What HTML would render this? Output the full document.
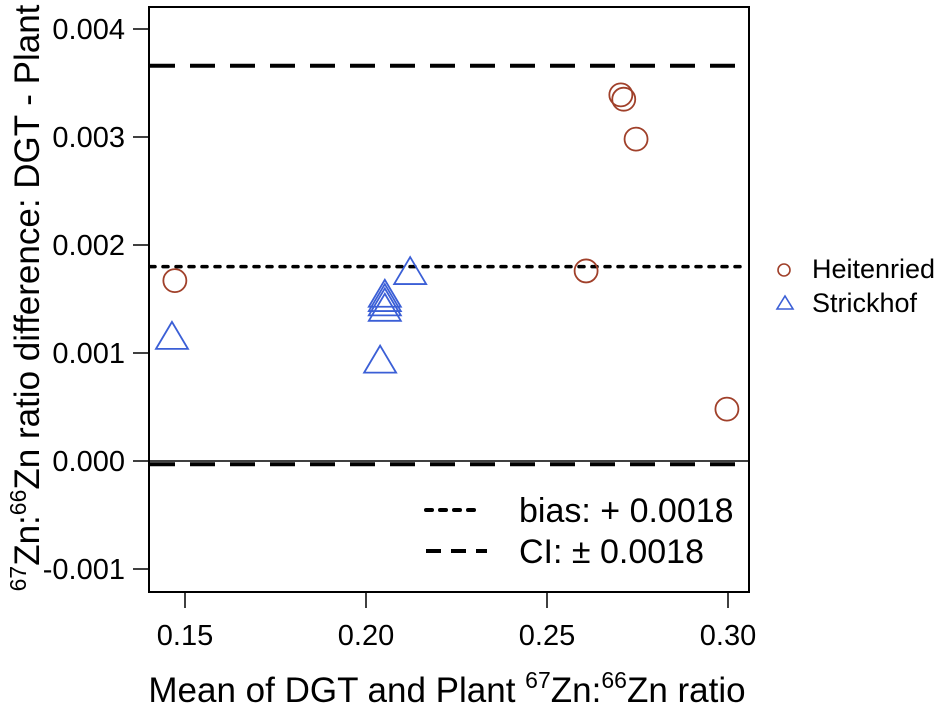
<!DOCTYPE html>
<html><head><meta charset="utf-8"><style>
html,body{margin:0;padding:0;background:#fff;}
svg{display:block;font-family:"Liberation Sans",Arial,sans-serif;}
</style></head><body>
<svg id="chart" width="945" height="710" viewBox="0 0 945 710" xmlns="http://www.w3.org/2000/svg">
<rect x="149" y="7" width="600" height="585" fill="none" stroke="#000" stroke-width="2"/>
<g id="axes"></g>
<g id="lines"></g>
<g id="points"></g>
<text x="447" y="702" font-size="35" text-anchor="middle">Mean of DGT and Plant <tspan font-size="23" dy="-14">67</tspan><tspan dy="14">Zn:</tspan><tspan font-size="23" dy="-14">66</tspan><tspan dy="14">Zn ratio</tspan></text>
<text transform="translate(39,298) rotate(-90)" font-size="35" text-anchor="middle"><tspan font-size="23" dy="-13">67</tspan><tspan dy="13">Zn:</tspan><tspan font-size="23" dy="-13">66</tspan><tspan dy="13">Zn ratio difference: DGT - Plant</tspan></text>
<g>
<line x1="426" y1="510" x2="480" y2="510" stroke="#000" stroke-width="4" stroke-dasharray="6,8" stroke-linecap="round"/>
<text x="519" y="522" font-size="34">bias: + 0.0018</text>
<line x1="426" y1="551" x2="487" y2="551" stroke="#000" stroke-width="4" stroke-dasharray="15,10"/>
<text x="519" y="563" font-size="34">CI: ± 0.0018</text>
</g>
<g>
<circle cx="784" cy="270" r="6" fill="none" stroke="#a0402a" stroke-width="1.6"/>
<text x="812" y="278" font-size="27">Heitenried</text>
<polygon points="785,296 777,309 793,309" fill="none" stroke="#3b5fd6" stroke-width="1.6"/>
<text x="812" y="312" font-size="27">Strickhof</text>
</g>
</svg>
<script>
const xTicks = [0.15, 0.20, 0.25, 0.30];
const xTickLabels = ["0.15", "0.20", "0.25", "0.30"];
const yTicks = [0.004, 0.003, 0.002, 0.001, 0.000, -0.001];
const yTickLabels = ["0.004", "0.003", "0.002", "0.001", "0.000", "-0.001"];
const heitenriedX = [0.1472, 0.2608, 0.2704, 0.2712, 0.2746, 0.2997];
const heitenriedY = [0.00167, 0.00176, 0.00339, 0.00335, 0.00298, 0.00048];
const strickhofX = [0.1464, 0.2039, 0.2052, 0.2052, 0.2052, 0.2052, 0.2122];
const strickhofY = [0.00114, 0.00092, 0.00153, 0.00149, 0.00145, 0.00140, 0.00174];
const biasValue = 0.0018;
const ciUpper = 0.00366;
const ciLower = -0.00003;

const NS = "http://www.w3.org/2000/svg";
const xs = v => 185 + (v - 0.15) * 3620;
const ys = v => 29 + (0.004 - v) * 108000;
function mk(tag, attrs, parent) {
  const e = document.createElementNS(NS, tag);
  for (const k in attrs) e.setAttribute(k, attrs[k]);
  parent.appendChild(e);
  return e;
}
const axes = document.getElementById('axes');
xTicks.forEach((t, i) => {
  const l = mk('line', {x1: xs(t), x2: xs(t), y1: 592, y2: 608, stroke: '#000', 'stroke-width': 1.5}, axes);
  
  
  const tx = mk('text', {x: xs(t), y: 645, 'font-size': 29, 'text-anchor': 'middle'}, axes);
  tx.textContent = xTickLabels[i];
  
  
});
yTicks.forEach((t, i) => {
  const l = mk('line', {x1: 133, x2: 149, y1: ys(t), y2: ys(t), stroke: '#000', 'stroke-width': 1.5}, axes);
  
  
  const tx = mk('text', {x: 125, y: ys(t) + 10, 'font-size': 29, 'text-anchor': 'end'}, axes);
  tx.textContent = yTickLabels[i];
  
  
});
const lines = document.getElementById('lines');
const b = mk('line', {x1: 150, x2: 748, y1: ys(biasValue), y2: ys(biasValue), stroke: '#000', 'stroke-width': 3.5, 'stroke-dasharray': '5,8', 'stroke-linecap': 'round'}, lines);


const cu = mk('line', {x1: 150, x2: 748, y1: ys(ciUpper), y2: ys(ciUpper), stroke: '#000', 'stroke-width': 4, 'stroke-dasharray': '25,15'}, lines);


const cl = mk('line', {x1: 150, x2: 748, y1: ys(ciLower), y2: ys(ciLower), stroke: '#000', 'stroke-width': 4, 'stroke-dasharray': '25,15'}, lines);


const zl = mk('line', {x1: 150, x2: 748, y1: ys(0), y2: ys(0), stroke: '#000', 'stroke-width': 1.5}, lines);



const pts = document.getElementById('points');
heitenriedX.forEach((x, i) => {
  const c = mk('circle', {cx: xs(x), cy: ys(heitenriedY[i]), r: 11.5, fill: 'none', stroke: '#a0402a', 'stroke-width': 1.8}, pts);
  
  
});
strickhofX.forEach((x, i) => {
  const cx = xs(x), cy = ys(strickhofY[i]);
  const p = mk('polygon', {points: `${cx},${cy-16} ${cx-16},${cy+11} ${cx+16},${cy+11}`, fill: 'none', stroke: '#3b5fd6', 'stroke-width': 1.8}, pts);
  
  
});
</script>
</body></html>
